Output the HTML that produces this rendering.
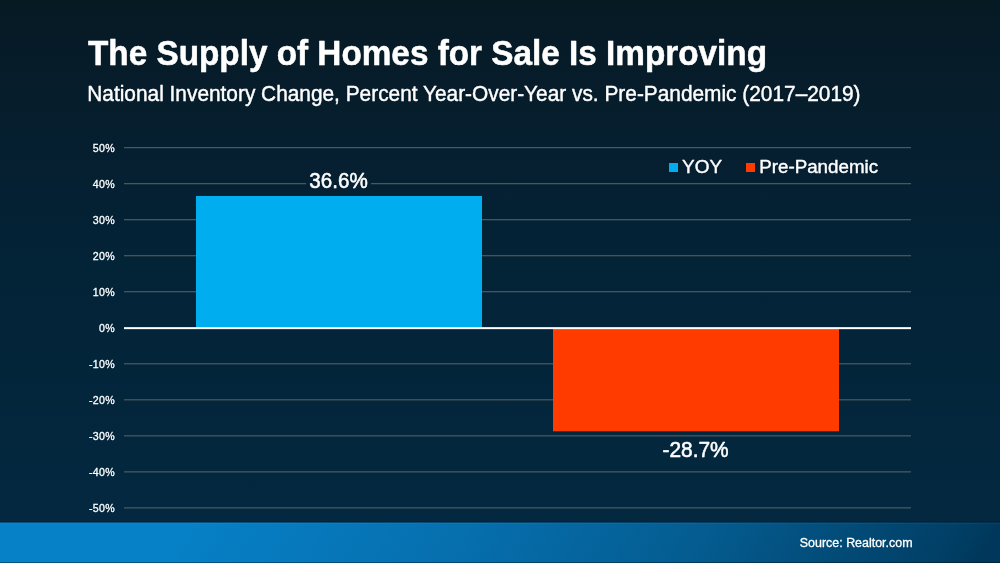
<!DOCTYPE html>
<html>
<head>
<meta charset="utf-8">
<style>
html,body{margin:0;padding:0;width:1000px;height:563px;overflow:hidden;background:#041e2e;}
svg{display:block;will-change:transform;}
text{font-family:"Liberation Sans",sans-serif;fill:#fff;}
</style>
</head>
<body>
<svg width="1000" height="563" viewBox="0 0 1000 563">
<defs>
<linearGradient id="bg" x1="0" y1="0" x2="0" y2="1">
<stop offset="0" stop-color="#061a24"/>
<stop offset="0.24" stop-color="#061e2e"/>
<stop offset="0.5" stop-color="#032337"/>
<stop offset="0.96" stop-color="#03283f"/>
<stop offset="1" stop-color="#03283f"/>
</linearGradient>
<linearGradient id="band" gradientUnits="userSpaceOnUse" x1="375.7" y1="234.8" x2="958.2" y2="598.9">
<stop offset="0" stop-color="#0680c6"/>
<stop offset="0.339" stop-color="#066fae"/>
<stop offset="0.636" stop-color="#045c90"/>
<stop offset="0.945" stop-color="#013f66"/>
<stop offset="1" stop-color="#00375a"/>
</linearGradient>
</defs>
<rect x="0" y="0" width="1000" height="522" fill="url(#bg)"/>
<rect x="0" y="522" width="1000" height="41" fill="url(#band)"/>
<rect x="0" y="521" width="1000" height="1" fill="#000" fill-opacity="0.14"/>
<rect x="0" y="522" width="1000" height="1" fill="#02243a" fill-opacity="0.5"/>
<rect x="0" y="523" width="1000" height="1" fill="#fff" fill-opacity="0.04"/>
<rect x="0" y="562" width="1000" height="1" fill="#000" fill-opacity="0.35"/>
<g stroke="#5e6569" stroke-width="1">
<line x1="124" y1="147.7" x2="911" y2="147.7"/>
<line x1="124" y1="183.72" x2="306" y2="183.72"/><line x1="371" y1="183.72" x2="911" y2="183.72"/>
<line x1="124" y1="219.74" x2="911" y2="219.74"/>
<line x1="124" y1="255.76" x2="911" y2="255.76"/>
<line x1="124" y1="291.78" x2="911" y2="291.78"/>
<line x1="124" y1="363.82" x2="911" y2="363.82"/>
<line x1="124" y1="399.84" x2="911" y2="399.84"/>
<line x1="124" y1="435.86" x2="911" y2="435.86"/>
<line x1="124" y1="471.88" x2="911" y2="471.88"/>
<line x1="124" y1="507.9" x2="911" y2="507.9"/>
</g>
<rect x="196" y="196" width="286" height="132" fill="#00aeef"/>
<rect x="553" y="328" width="286" height="103.3" fill="#ff3b00"/>
<rect x="124" y="327.15" width="787" height="2" fill="#ffffff"/>
<rect x="669" y="163" width="9" height="9" fill="#00aeef"/>
<rect x="746" y="163" width="9" height="9" fill="#ff3b00"/>
<text transform="translate(88,65.35) scale(1.0,1.04)" font-size="33.3" font-weight="bold" stroke="#fff" stroke-width="0.5" stroke-linejoin="round">The Supply of Homes for Sale Is Improving</text>
<text transform="translate(87.3,100.6) scale(1.0,1.04)" font-size="20.85" stroke="#fff" stroke-width="0.4" stroke-linejoin="round">National Inventory Change, Percent Year-Over-Year vs. Pre-Pandemic (2017&#8211;2019)</text>
<text transform="translate(115.1,152) scale(1.0,1.0)" font-size="10.6" text-anchor="end" letter-spacing="0.35" stroke="#fff" stroke-width="0.3" stroke-linejoin="round">50%</text>
<text transform="translate(115.1,188) scale(1.0,1.0)" font-size="10.6" text-anchor="end" letter-spacing="0.35" stroke="#fff" stroke-width="0.3" stroke-linejoin="round">40%</text>
<text transform="translate(115.1,224) scale(1.0,1.0)" font-size="10.6" text-anchor="end" letter-spacing="0.35" stroke="#fff" stroke-width="0.3" stroke-linejoin="round">30%</text>
<text transform="translate(115.1,260) scale(1.0,1.0)" font-size="10.6" text-anchor="end" letter-spacing="0.35" stroke="#fff" stroke-width="0.3" stroke-linejoin="round">20%</text>
<text transform="translate(115.1,296) scale(1.0,1.0)" font-size="10.6" text-anchor="end" letter-spacing="0.35" stroke="#fff" stroke-width="0.3" stroke-linejoin="round">10%</text>
<text transform="translate(115.1,332) scale(1.0,1.0)" font-size="10.6" text-anchor="end" letter-spacing="0.35" stroke="#fff" stroke-width="0.3" stroke-linejoin="round">0%</text>
<text transform="translate(115.1,368) scale(1.0,1.0)" font-size="10.6" text-anchor="end" letter-spacing="0.35" stroke="#fff" stroke-width="0.3" stroke-linejoin="round">-10%</text>
<text transform="translate(115.1,404) scale(1.0,1.0)" font-size="10.6" text-anchor="end" letter-spacing="0.35" stroke="#fff" stroke-width="0.3" stroke-linejoin="round">-20%</text>
<text transform="translate(115.1,440) scale(1.0,1.0)" font-size="10.6" text-anchor="end" letter-spacing="0.35" stroke="#fff" stroke-width="0.3" stroke-linejoin="round">-30%</text>
<text transform="translate(115.1,476) scale(1.0,1.0)" font-size="10.6" text-anchor="end" letter-spacing="0.35" stroke="#fff" stroke-width="0.3" stroke-linejoin="round">-40%</text>
<text transform="translate(115.1,512) scale(1.0,1.0)" font-size="10.6" text-anchor="end" letter-spacing="0.35" stroke="#fff" stroke-width="0.3" stroke-linejoin="round">-50%</text>
<text transform="translate(338.5,187.75) scale(1.0,1.075)" font-size="20.6" text-anchor="middle" stroke="#fff" stroke-width="0.5" stroke-linejoin="round">36.6%</text>
<text transform="translate(695.6,456.55) scale(1.0,1.04)" font-size="20.9" text-anchor="middle" stroke="#fff" stroke-width="0.5" stroke-linejoin="round">-28.7%</text>
<text transform="translate(682.0,172.55) scale(1.0,0.985)" font-size="19.0" stroke="#fff" stroke-width="0.4" stroke-linejoin="round">YOY</text>
<text transform="translate(759.25,172.55) scale(1.0,1.0)" font-size="18.75" stroke="#fff" stroke-width="0.4" stroke-linejoin="round">Pre-Pandemic</text>
<text transform="translate(912.5,547.0) scale(1.0,1.0)" font-size="12.45" text-anchor="end" stroke="#fff" stroke-width="0.3" stroke-linejoin="round">Source: Realtor.com</text>
</svg>
</body>
</html>
